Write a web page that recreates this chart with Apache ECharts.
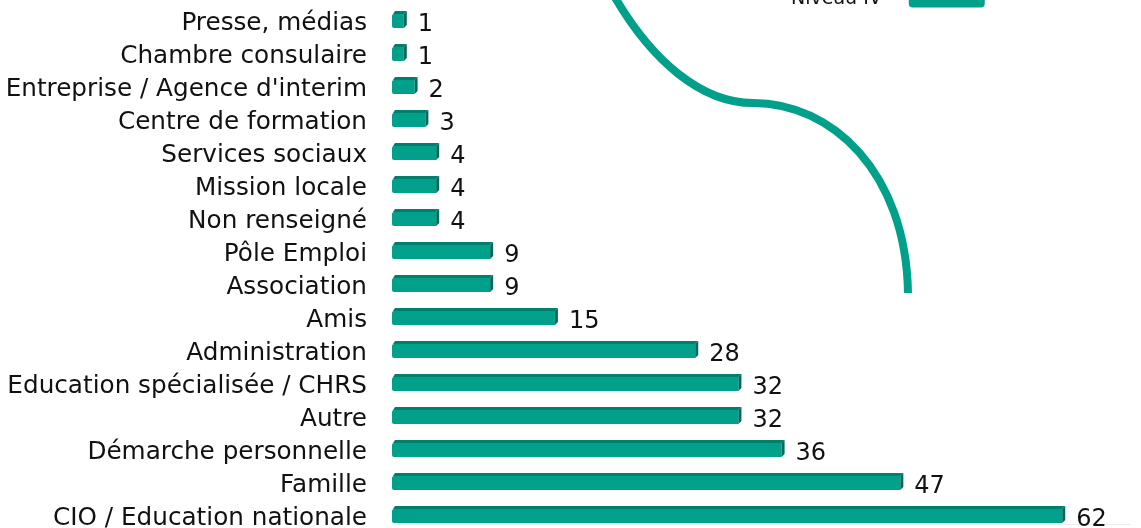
<!DOCTYPE html>
<html>
<head>
<meta charset="utf-8">
<script src="https://cdn.jsdelivr.net/npm/echarts@6/dist/echarts.min.js"></script>
<style>
	html, body { margin: 0; padding: 0; background: #fff; }
	#chart { width: 1141px; height: 528px; }
</style>
</head>
<body>
<div id="chart"></div>
<script>
// categories, top to bottom
var categories = [ 'Presse, médias', 'Chambre consulaire',
		'Entreprise / Agence d\'interim', 'Centre de formation',
		'Services sociaux', 'Mission locale', 'Non renseigné', 'Pôle Emploi',
		'Association', 'Amis', 'Administration',
		'Education spécialisée / CHRS', 'Autre', 'Démarche personnelle',
		'Famille', 'CIO / Education nationale' ];
var values = [ 1, 1, 2, 3, 4, 4, 4, 9, 9, 15, 28, 32, 32, 36, 47, 62 ];
var seriesName = 'Niveau IV';

var FONT = 'DejaVu Sans, Verdana, sans-serif';
var MAIN = '#00a08a';
var TOP = '#007f6d';
var SIDE = '#006b5c';

function renderBar(params, api) {
	var idx = api.value(0);
	var val = api.value(1);
	var p0 = api.coord([ 0, idx ]);
	var p1 = api.coord([ val, idx ]);
	var c = p0[1];
	var x0 = p0[0] - 4, x1 = p1[0];
	var top = c - 13, bot = c + 4, d = 3;
	return {
		type : 'group',
		children : [ {
			type : 'rect',
			shape : { x : x0, y : top + d, width : x1 - x0 - d, height : bot - top - d, r : [ 2, 0, 0, 2 ] },
			style : { fill : MAIN }
		}, {
			type : 'polygon',
			shape : { points : [ [ x0 + 1, top + d ], [ x0 + d, top ], [ x1, top ], [ x1 - d, top + d ] ] },
			style : { fill : TOP }
		}, {
			type : 'polygon',
			shape : { points : [ [ x1 - d, top + d ], [ x1, top ], [ x1, bot - d ], [ x1 - d, bot ] ] },
			style : { fill : SIDE }
		}, {
			type : 'text',
			style : {
				text : String(val), x : x1 + 11, y : c + 1,
				verticalAlign : 'middle', fontSize : 24, fontFamily : FONT, fill : '#111'
			}
		} ]
	};
}

var myChart = echarts.init(document.getElementById('chart'));
myChart.setOption({
	animation : false,
	legend : {
		data : [ seriesName ],
		top : -15,
		left : 786,
		align : 'right',
		icon : 'roundRect',
		itemWidth : 76,
		itemHeight : 16,
		textStyle : { fontSize : 19, fontFamily : FONT, color : '#111', padding : [ 0, 22, 0, 0 ] }
	},
	grid : {
		left : 396,
		right : 11,
		top : 7.5,
		height : 528,
		outerBoundsMode : 'none',
		containLabel : false
	},
	xAxis : {
		type : 'value',
		min : 0,
		max : 68,
		offset : -11,
		axisLine : { show : true, lineStyle : { color : '#ececec', width : 1 } },
		axisTick : { show : false },
		axisLabel : { show : false },
		splitLine : { show : false }
	},
	yAxis : {
		type : 'category',
		inverse : true,
		data : categories,
		axisLine : { show : false },
		axisTick : { show : false },
		axisLabel : { margin : 29, fontSize : 24.7, fontFamily : FONT, color : '#111' }
	},
	// decorative curve from the source image
	graphic : [ {
		type : 'bezierCurve',
		shape : { x1 : 613, y1 : -6, cpx1 : 652, cpy1 : 62, cpx2 : 702, cpy2 : 103, x2 : 753, y2 : 103 },
		style : { stroke : MAIN, lineWidth : 8, fill : null }
	}, {
		type : 'bezierCurve',
		shape : { x1 : 753, y1 : 103, cpx1 : 832, cpy1 : 103, cpx2 : 906, cpy2 : 172, x2 : 908, y2 : 293 },
		style : { stroke : MAIN, lineWidth : 8, fill : null }
	} ],
	series : [ {
		name : seriesName,
		type : 'custom',
		renderItem : renderBar,
		itemStyle : { color : MAIN },
		encode : { x : 1, y : 0 },
		data : values.map(function(v, i) {
			return [ i, v ];
		})
	} ]
});
</script>
</body>
</html>
